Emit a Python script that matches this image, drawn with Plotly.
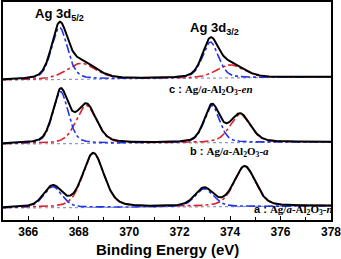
import numpy as np
import plotly.graph_objects as go

# ---- data (binding energy in eV, intensity in arbitrary units) ----
spectra = ["a", "b", "c"]
offsets = [12, 76, 140]                      # vertical offset of each stacked spectrum
bg_rise = [2, 2, 3]                          # background rise from low to high BE

# component 1 (blue, metallic Ag) : 3d5/2 and 3d3/2
blue_centers = [[366.97, 372.97], [367.28, 373.28], [367.24, 373.22]]
blue_heights = [[21, 18], [52, 37], [52, 36]]
blue_fwhm = [[0.85, 0.85], [0.72, 0.72], [0.75, 0.75]]

# component 2 (red, oxidised Ag) : 3d5/2 and 3d3/2
red_centers = [[368.58, 374.58], [368.3, 374.4], [368.1, 374.0]]
red_heights = [[54, 40], [38, 28], [16, 13]]
red_fwhm = [[1.0, 1.0], [0.95, 0.95], [1.35, 1.25]]

x_ticks = [366, 368, 370, 372, 374, 376, 378]

x = np.linspace(365, 378, 700)


def pv(x, c, h, w, eta=0.35):
    g = np.exp(-4 * np.log(2) * (x - c) ** 2 / w ** 2)
    l = 1 / (1 + 4 * (x - c) ** 2 / w ** 2)
    return h * ((1 - eta) * g + eta * l)


fig = go.Figure()
for i, name in enumerate(spectra):
    base = offsets[i] + bg_rise[i] * (x - 365) / 13
    blue = sum(pv(x, c, h, w) for c, h, w in zip(blue_centers[i], blue_heights[i], blue_fwhm[i]))
    red = sum(pv(x, c, h, w) for c, h, w in zip(red_centers[i], red_heights[i], red_fwhm[i]))
    fig.add_trace(go.Scatter(x=x, y=base, mode="lines",
                             line=dict(color="#8a9ac0", width=1.2, dash="dot"), hoverinfo="skip"))
    fig.add_trace(go.Scatter(x=x, y=base + red, mode="lines",
                             line=dict(color="#e0202a", width=1.6, dash="dashdot"), hoverinfo="skip"))
    fig.add_trace(go.Scatter(x=x, y=base + blue, mode="lines",
                             line=dict(color="#2233ee", width=1.6, dash="dashdot"), hoverinfo="skip"))
    fig.add_trace(go.Scatter(x=x, y=base + blue + red, mode="lines",
                             line=dict(color="black", width=2), hoverinfo="skip"))

serif = "'Liberation Serif', 'Times New Roman', serif"
sans = "'Liberation Sans', Arial, sans-serif"


def label(letter, tail):
    return ("<b>" + letter + " : </b><span style=\"font-family:" + serif + "\"><b>Ag/<i>a</i>-Al<sub>2</sub>O<sub>3</sub>-"
            + tail + "</b></span>")


annots = [
    dict(x=367.25, y=206, text="<b>Ag 3d<sub>5/2</sub></b>", xanchor="center", size=13),
    dict(x=373.4, y=192, text="<b>Ag 3d<sub>3/2</sub></b>", xanchor="center", size=13),
    dict(x=371.5, y=130, text=label("c", "<i>en</i>"), xanchor="left", size=11),
    dict(x=372.33, y=68, text=label("b", "<i>a</i>"), xanchor="left", size=11),
    dict(x=374.85, y=10, text=label("a", "<i>n</i>"), xanchor="left", size=11),
]
for a in annots:
    fig.add_annotation(xref="x", yref="y", showarrow=False, yanchor="middle",
                       x=a["x"], y=a["y"], text=a["text"], xanchor=a["xanchor"],
                       font=dict(family=sans, color="black", size=a["size"]))

fig.add_annotation(xref="paper", yref="paper", x=0.5, y=-0.085, yanchor="top", showarrow=False,
                   text="<b>Binding Energy (eV)</b>", font=dict(size=15, family=sans, color="black"))

fig.update_layout(
    width=341, height=259,
    margin=dict(l=3, r=10, t=2, b=39, autoexpand=False),
    paper_bgcolor="white", plot_bgcolor="white",
    showlegend=False,
    font=dict(family=sans, color="black"),
    xaxis=dict(range=[365, 378], tickvals=x_ticks, ticktext=["<b>%d</b>" % t for t in x_ticks],
               ticks="inside", ticklen=4, tickwidth=1.2, tickcolor="black", ticklabeloverflow="allow",
               minor=dict(dtick=1, tick0=365, ticks="inside", ticklen=3, tickcolor="black", tickwidth=1),
               showline=True, linecolor="black", linewidth=1.5, mirror=True, automargin=False,
               showgrid=False, zeroline=False, tickfont=dict(size=12, family=sans)),
    yaxis=dict(range=[0, 218], showticklabels=False, ticks="", showline=True, linecolor="black",
               linewidth=1.5, mirror=True, showgrid=False, zeroline=False, automargin=False),
)

fig.write_html("out.html", config={"displayModeBar": False},
               post_script="document.body.style.margin='0';document.body.style.overflow='hidden';")
